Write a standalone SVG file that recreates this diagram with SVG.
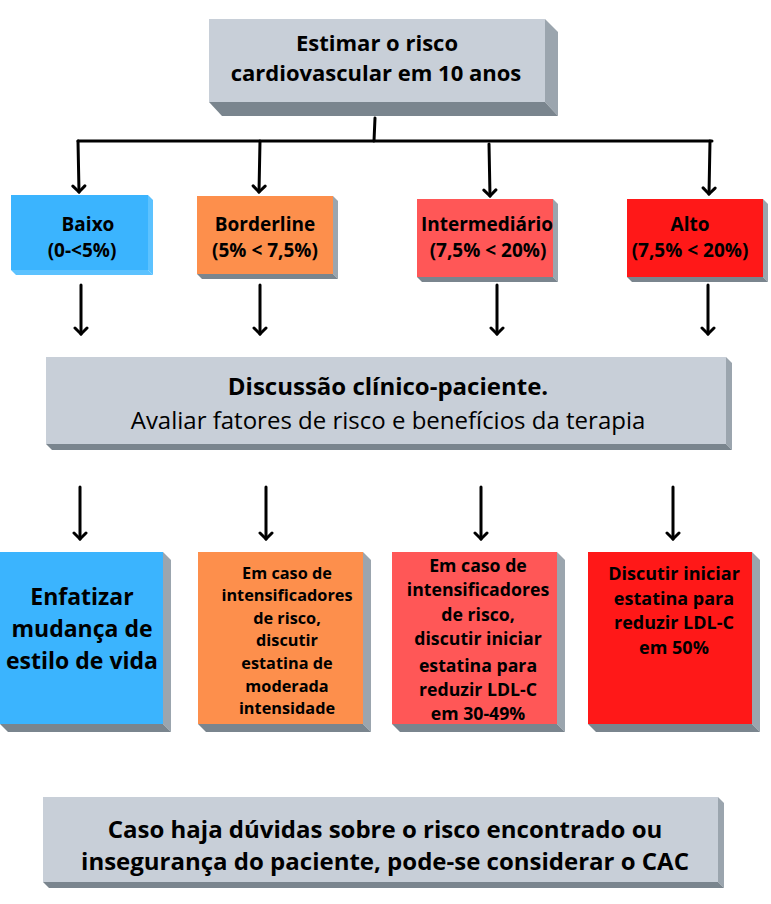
<svg xmlns="http://www.w3.org/2000/svg" width="771" height="904" viewBox="0 0 771 904">
<style>
text{font-family:"Open Sans","Noto Sans","DejaVu Sans",sans-serif;fill:#000;text-anchor:middle}
.b{font-weight:700}
.r{font-weight:400}
.gf{fill:#c8cfd8}
.gs{fill:#9ba5ae}
.gb{fill:#7a858e}
.blue{fill:#3bb4fe}
.orange{fill:#fd8f4c}
.salmon{fill:#ff5757}
.red{fill:#ff1818}
.con{stroke:#000;stroke-width:3;fill:none;stroke-linecap:round}
</style>
<defs>
<marker id="ah" markerUnits="userSpaceOnUse" markerWidth="16" markerHeight="16" refX="8" refY="8" orient="auto" viewBox="0 0 16 16">
<path d="M2,2 L8,8 L2,14" fill="none" stroke="#000" stroke-width="3" stroke-linecap="round" stroke-linejoin="miter"/>
</marker>
</defs>
<rect width="771" height="904" fill="#fff"/>

<g id="n-header">
<polygon class="gs" points="545,19 558,32 558,116 545,102"/>
<polygon class="gb" points="209,102 545,102 558,116 222,116"/>
<rect class="gf" x="209" y="19" width="336" height="83"/>
<text class="b" font-size="22" x="377" y="51">Estimar o risco</text>
<text class="b" font-size="22" x="376" y="81">cardiovascular em 10 anos</text>
</g>

<g id="n-baixo">
<polygon fill="#5cc2ff" points="148,195 153,200 153,275 148,270"/>
<polygon fill="#5cc2ff" points="11,270 148,270 153,275 16,275"/>
<rect class="blue" x="11" y="195" width="137" height="75"/>
<text class="b" font-size="19" x="88" y="231">Baixo</text>
<text class="b" font-size="19" x="82" y="257">(0-&lt;5%)</text>
</g>

<g id="n-borderline">
<polygon class="gs" points="333,196 338,201 338,279 333,274"/>
<polygon class="gb" points="197,274 333,274 338,279 202,279"/>
<rect class="orange" x="197" y="196" width="136" height="78"/>
<text class="b" font-size="19" x="265" y="231">Borderline</text>
<text class="b" font-size="19" x="265" y="257">(5% &lt; 7,5%)</text>
</g>

<g id="n-intermediario">
<polygon class="gs" points="553,199 558,204 558,282 553,277"/>
<polygon class="gb" points="417,277 553,277 558,282 422,282"/>
<rect class="salmon" x="417" y="199" width="136" height="78"/>
<text class="b" font-size="19" x="487" y="231">Intermediário</text>
<text class="b" font-size="19" x="488" y="257">(7,5% &lt; 20%)</text>
</g>

<g id="n-alto">
<polygon class="gs" points="763,199 768,204 768,282 763,277"/>
<polygon class="gb" points="627,277 763,277 768,282 632,282"/>
<rect class="red" x="627" y="199" width="136" height="78"/>
<text class="b" font-size="19" x="690" y="231">Alto</text>
<text class="b" font-size="19" x="690" y="257">(7,5% &lt; 20%)</text>
</g>

<g id="n-discussao">
<polygon class="gs" points="726,357 732,363 732,450 726,444"/>
<polygon class="gb" points="46,444 726,444 732,450 52,450"/>
<rect class="gf" x="46" y="357" width="680" height="87"/>
<text class="b" font-size="24" x="388" y="395">Discussão clínico-paciente.</text>
<text class="r" font-size="24" x="388" y="429">Avaliar fatores de risco e benefícios da terapia</text>
</g>

<g id="n-enfatizar">
<polygon class="gs" points="163,552 171,560 171,732 163,724"/>
<polygon class="gb" points="0,724 163,724 171,732 8,732"/>
<rect class="blue" x="0" y="552" width="163" height="172"/>
<text class="b" font-size="23" x="82" y="605">Enfatizar</text>
<text class="b" font-size="23" x="82" y="637">mudança de</text>
<text class="b" font-size="23" x="82" y="669">estilo de vida</text>
</g>

<g id="n-moderada">
<polygon class="gs" points="363,552 371,560 371,732 363,724"/>
<polygon class="gb" points="198,724 363,724 371,732 206,732"/>
<rect class="orange" x="198" y="552" width="165" height="172"/>
<text class="b" font-size="16.3" x="287" y="579">Em caso de</text>
<text class="b" font-size="16.3" x="287" y="601">intensificadores</text>
<text class="b" font-size="16.3" x="287" y="624">de risco,</text>
<text class="b" font-size="16.3" x="287" y="646">discutir</text>
<text class="b" font-size="16.3" x="287" y="669">estatina de</text>
<text class="b" font-size="16.3" x="287" y="692">moderada</text>
<text class="b" font-size="16.3" x="287" y="714">intensidade</text>
</g>

<g id="n-30-49">
<polygon class="gs" points="557,552 565,560 565,732 557,724"/>
<polygon class="gb" points="392,724 557,724 565,732 400,732"/>
<rect class="salmon" x="392" y="552" width="165" height="172"/>
<text class="b" font-size="17.7" x="478" y="572">Em caso de</text>
<text class="b" font-size="17.7" x="478" y="596">intensificadores</text>
<text class="b" font-size="17.7" x="478" y="621">de risco,</text>
<text class="b" font-size="17.7" x="478" y="645">discutir iniciar</text>
<text class="b" font-size="17.7" x="478" y="672">estatina para</text>
<text class="b" font-size="17.7" x="478" y="696">reduzir LDL-C</text>
<text class="b" font-size="17.7" x="478" y="720">em 30-49%</text>
</g>

<g id="n-50">
<polygon class="gs" points="752,552 760,560 760,732 752,724"/>
<polygon class="gb" points="588,724 752,724 760,732 596,732"/>
<rect class="red" x="588" y="552" width="164" height="172"/>
<text class="b" font-size="18" x="674" y="580">Discutir iniciar</text>
<text class="b" font-size="18" x="674" y="605">estatina para</text>
<text class="b" font-size="18" x="674" y="629">reduzir LDL-C</text>
<text class="b" font-size="18" x="674" y="654">em 50%</text>
</g>

<g id="n-cac">
<polygon class="gs" points="718,797 724,803 724,888 718,882"/>
<polygon class="gb" points="43,882 718,882 724,888 49,888"/>
<rect class="gf" x="43" y="797" width="675" height="85"/>
<text class="b" font-size="24" x="385" y="838">Caso haja dúvidas sobre o risco encontrado ou</text>
<text class="b" font-size="24" x="385" y="870">insegurança do paciente, pode-se considerar o CAC</text>
</g>

<g id="connectors">
<path class="con" d="M375,118 L374,141"/>
<path class="con" d="M78,141 L712,141"/>
<path class="con" d="M78,141 L79,192" marker-end="url(#ah)"/>
<path class="con" d="M260,141 L259,192" marker-end="url(#ah)"/>
<path class="con" d="M489,144 L490,196" marker-end="url(#ah)"/>
<path class="con" d="M710,141 L709,194" marker-end="url(#ah)"/>
<path class="con" d="M81,285 L81,334" marker-end="url(#ah)"/>
<path class="con" d="M260,285 L260,334" marker-end="url(#ah)"/>
<path class="con" d="M497,285 L497,334" marker-end="url(#ah)"/>
<path class="con" d="M708,285 L708,334" marker-end="url(#ah)"/>
<path class="con" d="M80,487 L80,539" marker-end="url(#ah)"/>
<path class="con" d="M266,487 L266,539" marker-end="url(#ah)"/>
<path class="con" d="M481,487 L481,539" marker-end="url(#ah)"/>
<path class="con" d="M673,487 L673,539" marker-end="url(#ah)"/>
</g>
</svg>
